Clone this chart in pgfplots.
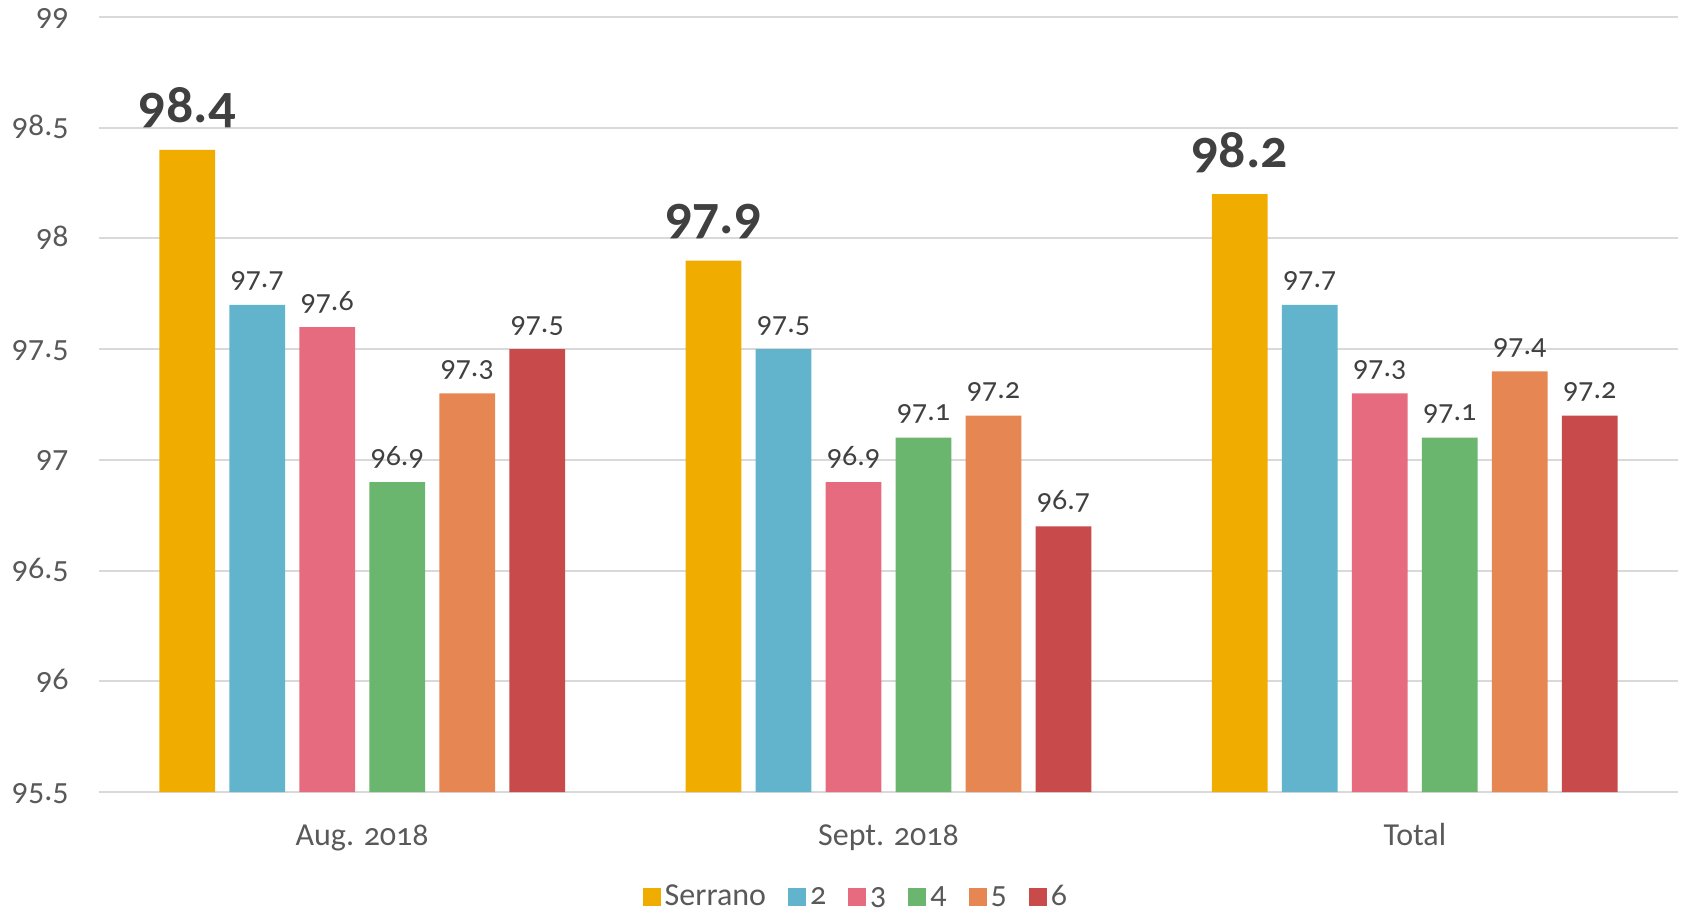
\documentclass[border=0pt]{standalone}
\usepackage{pgfplots}
\pgfplotsset{compat=1.18}
\usepackage{fontspec}
\newfontfamily\cf{Carlito}[RawFeature=+onum]
\definecolor{cSer}{RGB}{240,173,0}
\definecolor{cTwo}{RGB}{97,180,204}
\definecolor{cThree}{RGB}{230,107,126}
\definecolor{cFour}{RGB}{107,182,110}
\definecolor{cFive}{RGB}{230,134,82}
\definecolor{cSix}{RGB}{200,74,74}
\definecolor{gridc}{RGB}{217,217,217}
\definecolor{tickc}{RGB}{89,89,89}
\definecolor{labc}{RGB}{64,64,64}
\begin{document}
\begin{tikzpicture}
\useasboundingbox (-49.5pt,-60pt) rectangle (792pt,396pt);
\begin{axis}[
  at={(0,0)}, anchor=south west,
  scale only axis, width=789.5pt, height=387.5pt,
  xmin=-0.5, xmax=2.5, ymin=95.5, ymax=99,
  xtick={0,1,2}, xticklabels={{\cf Aug. 2018}, {\cf Sept. 2018}, {\cf Total}},
  ytick={95.5,96,96.5,97,97.5,98,98.5,99},
  yticklabel={\cf\pgfmathprintnumber[fixed,precision=1,assume math mode=true]{\tick}},
  axis line style={draw=none}, major tick length=0pt,
  ymajorgrids, grid style={color=gridc, line width=1pt},
  tick label style={font=\fontsize{16}{19}\selectfont, text=tickc},
  yticklabel style={anchor=base east, inner sep=0pt, xshift=-15pt, yshift=-4pt},
  xticklabel style={anchor=base, inner sep=0pt, yshift=-26.5pt},
  ybar, bar width=27.9pt,
  every axis plot post/.append style={legend image code/.code={\fill[##1] (0pt,-4.5pt) rectangle (9pt,4.5pt);}},
  nodes near coords={\cf\pgfmathprintnumber[fixed,fixed zerofill,precision=1,assume math mode=true]{\pgfplotspointmeta}},
  every node near coord/.append style={anchor=base, inner sep=0pt, yshift=8.5pt, font=\fontsize{15}{18}\selectfont, text=labc},
  legend columns=6,
  legend style={draw=none, fill=none, at={(0.48,-0.1355)}, anchor=center, font=\fontsize{16}{19}\selectfont, text=tickc, /tikz/every even column/.append style={column sep=9pt}},
]
\addplot[fill=cSer, draw=none, bar shift=-87.5pt, every node near coord/.append style={font=\bfseries\fontsize{27}{30}\selectfont, yshift=5pt}] coordinates {(0,98.4) (1,97.9) (2,98.2)};
\addplot[fill=cTwo, draw=none, bar shift=-52.5pt] coordinates {(0,97.7) (1,97.5) (2,97.7)};
\addplot[fill=cThree, draw=none, bar shift=-17.5pt] coordinates {(0,97.6) (1,96.9) (2,97.3)};
\addplot[fill=cFour, draw=none, bar shift=17.5pt] coordinates {(0,96.9) (1,97.1) (2,97.1)};
\addplot[fill=cFive, draw=none, bar shift=52.5pt] coordinates {(0,97.3) (1,97.2) (2,97.4)};
\addplot[fill=cSix, draw=none, bar shift=87.5pt] coordinates {(0,97.5) (1,96.7) (2,97.2)};
\legend{{\cf Serrano},{\cf 2},{\cf 3},{\cf 4},{\cf 5},{\cf 6}}
\end{axis}
\end{tikzpicture}
\end{document}
